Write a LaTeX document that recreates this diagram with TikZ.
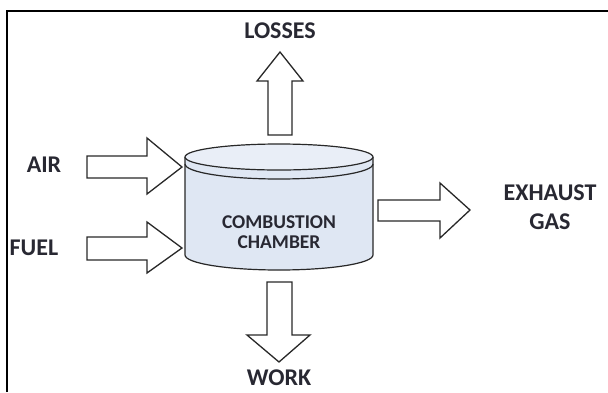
\documentclass[tikz,border=0pt]{standalone}
\usepackage{fontspec}
\setmainfont{Carlito}[BoldFont={Carlito Bold}]
\definecolor{cylfill}{RGB}{223,231,243}
\definecolor{linecol}{RGB}{40,40,40}
\definecolor{txt}{RGB}{40,40,50}
\tikzset{
  blockarrow/.style={draw=linecol, line width=1.3pt, fill=white, line join=miter},
  lbl/.style={font=\bfseries\fontsize{24}{29}\selectfont, text=txt, align=center, inner sep=0pt},
  inlbl/.style={font=\bfseries\fontsize{19.5}{20}\selectfont, text=txt, align=center, inner sep=0pt}
}
\begin{document}
\begin{tikzpicture}[x=1pt,y=-1pt]
\useasboundingbox (0,0) rectangle (608,392);
% frame
\draw[line width=1.3pt] (7,392) -- (7,11) -- (608,11);
% cylinder
\fill[cylfill] (185,157) -- (185,255) arc[start angle=180,end angle=0,x radius=94,y radius=15] -- (373,157) -- cycle;
\draw[linecol, line width=1.2pt] (185,157) -- (185,255) arc[start angle=180,end angle=0,x radius=94,y radius=15] -- (373,157);
\draw[linecol, line width=1.2pt, fill=cylfill!70!white] (279,157) ellipse[x radius=94, y radius=13];
\draw[linecol, line width=1.2pt] (185,164) arc[start angle=180,end angle=0,x radius=94,y radius=15];
\node[inlbl] (cc) at (279,232) {COMBUSTION\\CHAMBER};
% losses arrow (up)
\draw[blockarrow] (268,135) -- (268,81) -- (257,81) -- (280,52) -- (303,81) -- (292,81) -- (292,135) -- cycle;
\node[lbl] (loss) at (280,31) {LOSSES};
% air arrow
\draw[blockarrow] (87,156) -- (147,156) -- (147,138) -- (182,167) -- (147,194) -- (147,178) -- (87,178) -- cycle;
\node[lbl] (air) at (44,165) {AIR};
% fuel arrow
\draw[blockarrow] (87,237) -- (147,237) -- (147,222) -- (182,248) -- (147,273) -- (147,260) -- (87,260) -- cycle;
\node[lbl] (fuel) at (34,248) {FUEL};
% exhaust arrow
\draw[blockarrow] (378,200) -- (440,200) -- (440,183) -- (470,210) -- (440,238) -- (440,221) -- (378,221) -- cycle;
\node[lbl] (exh) at (550,207) {EXHAUST\\GAS};
% work arrow
\draw[blockarrow] (267,282) -- (292,282) -- (292,335) -- (310,335) -- (279,362) -- (247,335) -- (267,335) -- cycle;
\node[lbl] (work) at (279,378) {WORK};
\end{tikzpicture}
\end{document}
